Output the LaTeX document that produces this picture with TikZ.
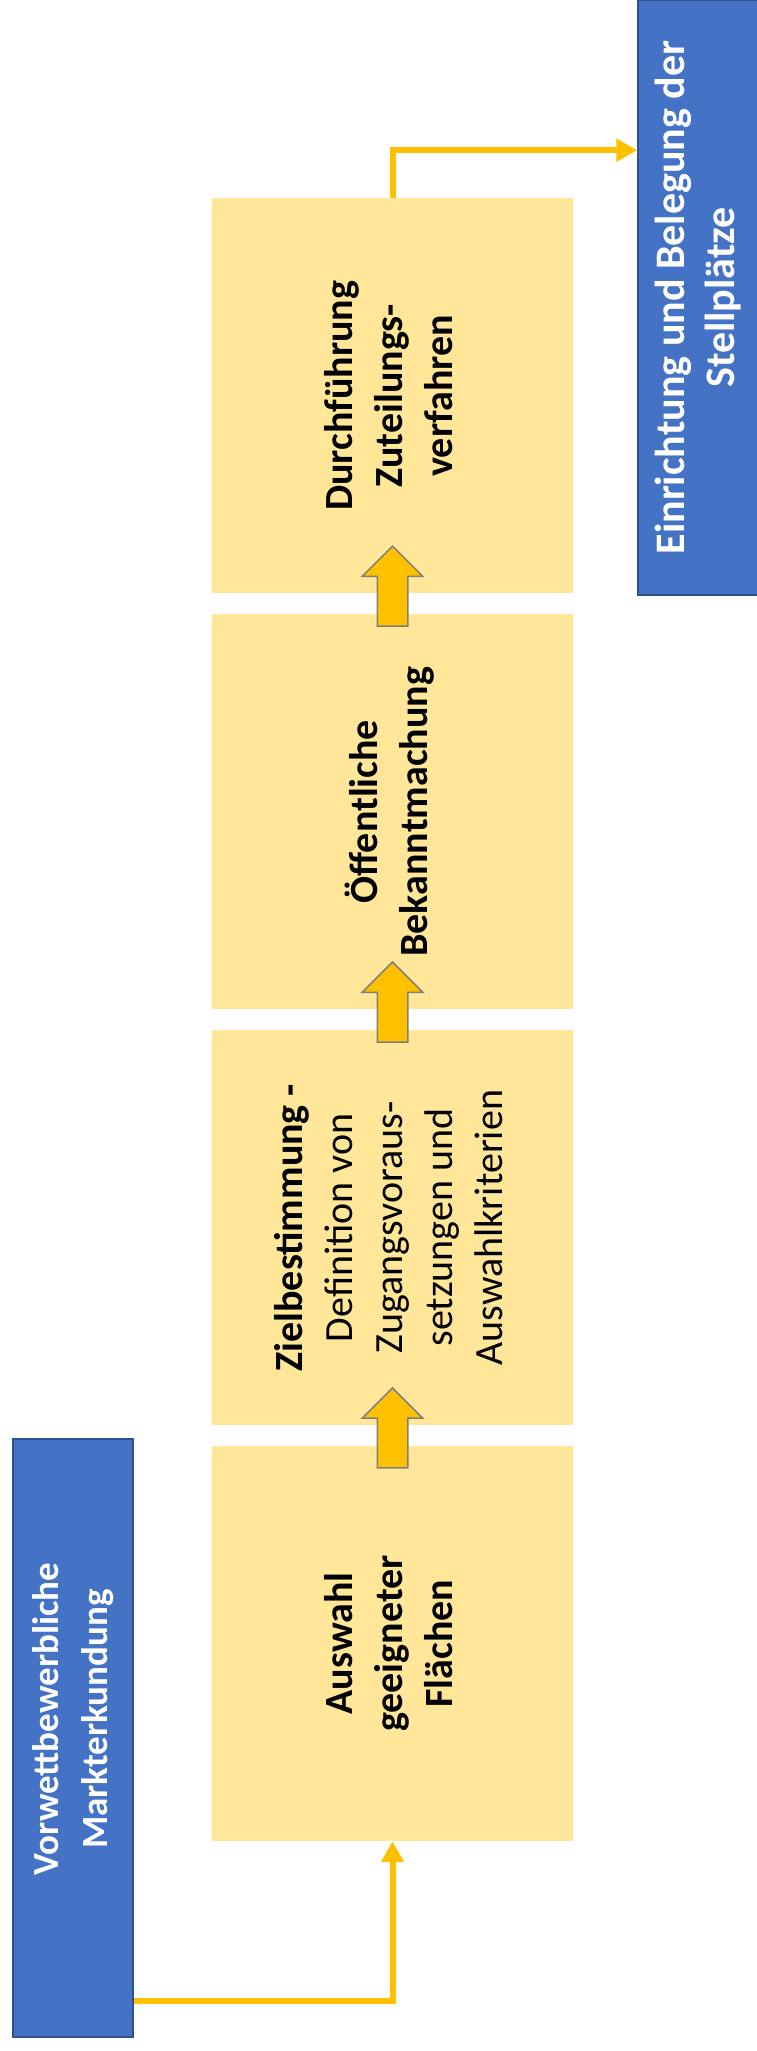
\documentclass[tikz,border=0pt]{standalone}
\usepackage{fontspec}
\setmainfont{Carlito}
\usepackage{tikz}
\usetikzlibrary{shapes.arrows, arrows.meta, positioning, calc}
\definecolor{stepyellow}{HTML}{FFE699}
\definecolor{boxblue}{HTML}{4472C4}
\definecolor{borderblue}{HTML}{2F528F}
\definecolor{arrowyellow}{HTML}{FFC000}
\definecolor{arrowgray}{HTML}{7F7F7F}
\newcommand{\quer}[1]{\rotatebox{90}{\begin{tabular}{@{}c@{}}#1\end{tabular}}}
\tikzstyle{stepbox} = [rectangle, 
			fill=stepyellow, 
			text centered, 
			inner sep=0pt, 
			minimum width = 361pt, 
			minimum height = 395pt, 
			font=\fontsize{40}{50}\selectfont]
\tikzstyle{endbox} = [rectangle, 
			draw=borderblue, 
			line width=1.5pt, 
			fill=boxblue, 
			text=white, 
			text centered, 
			inner sep=0pt, 
			minimum width = 120pt]
\tikzstyle{blockarrow} = [single arrow, 
			draw=arrowgray, 
			line width=1.5pt, 
			fill=arrowyellow, 
			shape border rotate=90, 
			inner sep=14.5pt, 
			minimum width = 59pt, 
			minimum height = 80pt, 
			single arrow head extend = 15pt]
\tikzstyle{line} = [draw=arrowyellow, line width=6pt, -{Triangle[length=21pt, width=22pt]}]

\begin{document}
\begin{tikzpicture}[x=1pt, y=-1pt, node distance = 20.5pt, auto]
	\useasboundingbox [fill=white] (0,0) rectangle (757,2051);
	\node [stepbox] (auswahl) at (392.5,1643.5) {\quer{\textbf{Auswahl}\\\textbf{geeigneter}\\\textbf{Flächen}}};
	\node [stepbox, above=of auswahl] (ziel) {\quer{\textbf{Zielbestimmung -}\\Definition von\\Zugangsvoraus-\\setzungen und\\Auswahlkriterien}};
	\node [stepbox, above=of ziel] (bekannt) {\quer{\textbf{Öffentliche}\\\textbf{Bekanntmachung}}};
	\node [stepbox, above=of bekannt] (durchf) {\quer{\textbf{Durchführung}\\\textbf{Zuteilungs-}\\\textbf{verfahren}}};
	\node [endbox, minimum height = 598pt, font=\bfseries\fontsize{37}{49}\selectfont] (markt) at (73,1738) {\rotatebox{90}{\hspace*{38pt}\begin{tabular}{@{}c@{}}Vorwettbewerbliche\\Markterkundung\end{tabular}}};
	\node [endbox, minimum width = 122pt, minimum height = 595pt, font=\bfseries\fontsize{42}{50}\selectfont] (einricht) at (699,297.5) {\quer{Einrichtung und Belegung der\\Stellplätze}};
	\node [blockarrow] (pfeilA) at ($(auswahl.north)!0.5!(ziel.south)$) {};
	\node [blockarrow, yshift=10pt] (pfeilB) at ($(ziel.north)!0.5!(bekannt.south)$) {};
	\node [blockarrow, yshift=10pt] (pfeilC) at ($(bekannt.north)!0.5!(durchf.south)$) {};
	\path [line] ([yshift=37pt]markt.south east) -| (auswahl.south);
	\path [line] (durchf.north) |- ([yshift=-151pt]einricht.north west);
\end{tikzpicture}
\end{document}
